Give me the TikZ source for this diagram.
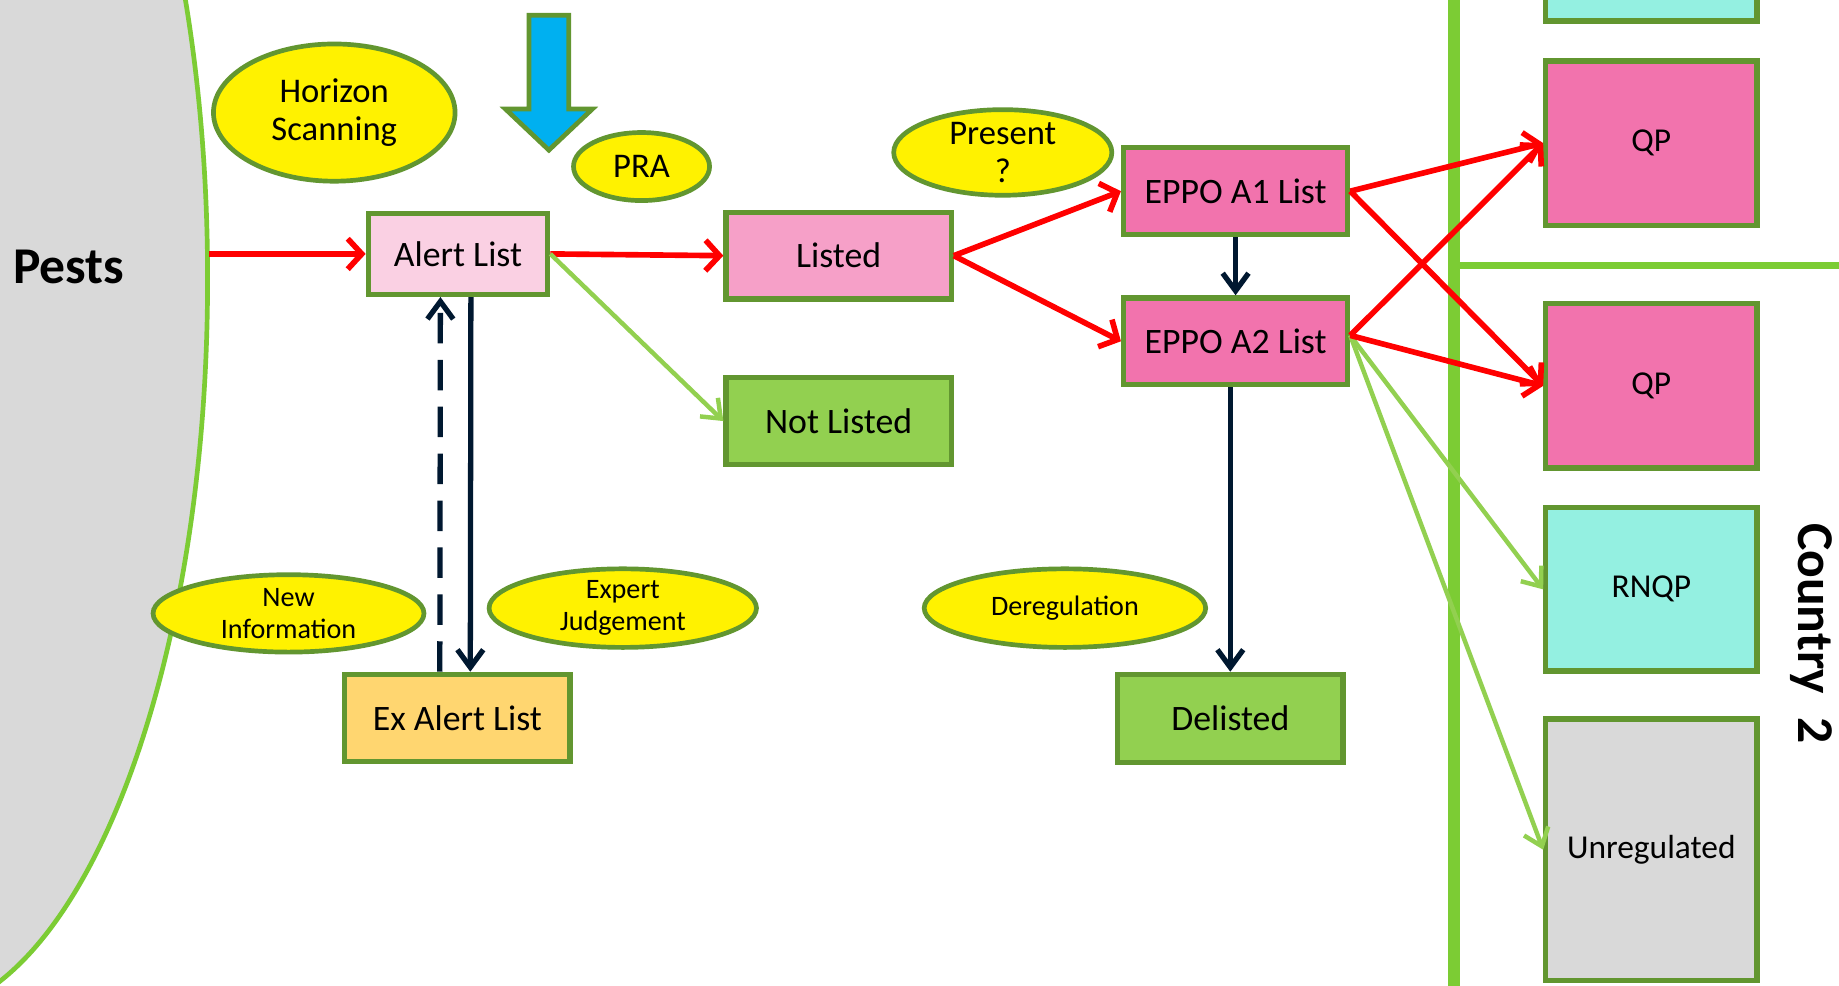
\documentclass[tikz,border=0pt]{standalone}
\usepackage{fontspec}
\setmainfont{Carlito}
\usetikzlibrary{arrows.meta,shapes.geometric}
\definecolor{bordergreen}{RGB}{98,150,48}
\definecolor{lightgreen}{RGB}{146,208,80}
\definecolor{brightgreen}{RGB}{124,204,52}
\definecolor{navyline}{RGB}{0,24,48}
\definecolor{alertpink}{RGB}{250,208,227}
\definecolor{listedpink}{RGB}{246,160,200}
\definecolor{eppopink}{RGB}{242,115,173}
\definecolor{exorange}{RGB}{255,214,112}
\definecolor{rnqpcyan}{RGB}{148,240,225}
\definecolor{greyfill}{RGB}{217,217,217}
\definecolor{bluearrow}{RGB}{0,176,240}
\newcommand\dgboxfont{\fontsize{30.5}{34}\selectfont}
\newcommand\dgsmallfont{\fontsize{24}{27}\selectfont}
\newcommand\dgovalfont{\fontsize{29.5}{32}\selectfont}
\newcommand\dgqpfont{\fontsize{28.5}{32}\selectfont}
\newcommand\dgbigfont{\fontsize{44}{50}\selectfont\bfseries}
\tikzset{
  listbox/.style={draw=bordergreen, line width=4.5pt, inner sep=0pt, font=\dgboxfont},
  oval/.style={ellipse, draw=bordergreen, fill=yellow, line width=4pt, inner sep=0pt, align=center},
  redarrow/.style={draw=red, line width=4.8pt, -{Straight Barb[length=12pt,width=26pt]}},
  greenarrow/.style={draw=lightgreen, line width=3.8pt, -{Straight Barb[length=14pt,width=22pt]}},
  navyarrow/.style={draw=navyline, line width=4.5pt, -{Straight Barb[length=15pt,width=22pt]}},
}
\begin{document}
\begin{tikzpicture}[x=1pt,y=-1pt]
\useasboundingbox (0,0) rectangle (1568,840);
\begin{scope}
\clip (0,0) rectangle (1568,840);
\fill[white] (0,0) rectangle (1568,840);
% pests region
\draw[fill=greyfill, draw=brightgreen, line width=4pt] (-77,238) ellipse [x radius=254, y radius=628];
\node[font=\dgbigfont, anchor=west, inner sep=0pt] (pests) at (11,228) {Pests};
\coordinate (pestedge) at (178,216.5);
% dividers
\draw[brightgreen, line width=10pt] (1240,-5) -- (1240,845);
\draw[brightgreen, line width=6pt] (1240,226) -- (1575,226);
% blue arrow
\draw[fill=bluearrow, draw=bordergreen, line width=4pt, line join=miter]
  (451,13) -- (485,13) -- (485,93) -- (505,93) -- (468,128) -- (431,93) -- (451,93) -- cycle;
% ovals
\node[oval, minimum width=206pt, minimum height=117pt, font=\dgovalfont] (horizon) at (285,96) {Horizon\\Scanning};
\node[oval, minimum width=116pt, minimum height=58pt, font=\dgovalfont] (pra) at (547,142) {PRA};
\node[oval, minimum width=186pt, minimum height=73pt, font=\dgovalfont] (present) at (855,130) {Present\\?};
\node[oval, minimum width=231pt, minimum height=66pt, font=\dgsmallfont] (newinfo) at (246,523) {New\\Information};
\node[oval, minimum width=228pt, minimum height=67pt, font=\dgsmallfont] (expert) at (531,518.5) {Expert\\Judgement};
\node[oval, minimum width=240pt, minimum height=67pt, font=\dgsmallfont] (dereg) at (908,518.5) {Deregulation};
% list boxes
\node[listbox, fill=alertpink, minimum width=153pt, minimum height=69pt] (alert) at (390.5,216.5) {Alert List};
\node[listbox, fill=listedpink, minimum width=192pt, minimum height=74pt] (listed) at (715,218) {Listed};
\node[listbox, fill=lightgreen, minimum width=192pt, minimum height=74pt] (notlisted) at (715,359) {Not Listed};
\node[listbox, fill=eppopink, minimum width=191pt, minimum height=74pt] (a1) at (1053.5,163) {EPPO A1 List};
\node[listbox, fill=eppopink, minimum width=191pt, minimum height=74pt] (a2) at (1053.5,291) {EPPO A2 List};
\node[listbox, fill=exorange, minimum width=192pt, minimum height=74pt] (exalert) at (390,612) {Ex Alert List};
\node[listbox, fill=lightgreen, minimum width=192pt, minimum height=75pt] (delisted) at (1049,612.5) {Delisted};
% country boxes
\node[listbox, fill=rnqpcyan, minimum width=180pt, minimum height=30pt] (topbox) at (1408,3) {};
\node[listbox, fill=eppopink, minimum width=180pt, minimum height=140pt, font=\dgqpfont] (qp1) at (1408,122) {QP};
\node[listbox, fill=eppopink, minimum width=180pt, minimum height=140pt, font=\dgqpfont] (qp2) at (1408,329) {QP};
\node[listbox, fill=rnqpcyan, minimum width=180pt, minimum height=139pt, font=\dgqpfont] (rnqp) at (1408,502.5) {RNQP};
\node[listbox, fill=greyfill, minimum width=180pt, minimum height=223pt, font=\dgqpfont] (unreg) at (1408,724.5) {Unregulated};
\node[font=\dgbigfont, rotate=-90, inner sep=0pt] (country) at (1544,540) {Country~~2};
% connectors
\draw[redarrow] (pestedge) -- (alert.west);
\draw[redarrow] (alert.east) -- (listed.west);
\draw[greenarrow] (alert.east) -- (notlisted.west);
\draw[redarrow] (listed.east) -- (a1.west);
\draw[redarrow] (listed.east) -- (a2.west);
\draw[navyarrow] (a1.south) -- (a2.north);
\draw[navyarrow] (a2.south -| delisted.north) -- (delisted.north);
\draw[navyarrow, dash pattern=on 26pt off 14pt] ([xshift=-15pt]exalert.north) -- ([xshift=-15pt]alert.south);
\draw[navyarrow] ([xshift=11pt]alert.south) -- ([xshift=11pt]exalert.north);
\draw[greenarrow] ([yshift=5pt]a2.east) -- (rnqp.west);
\draw[greenarrow] ([yshift=5pt]a2.east) -- (unreg.west);
\draw[redarrow] (a1.east) -- (qp1.west);
\draw[redarrow] (a1.east) -- (qp2.west);
\draw[redarrow] ([yshift=5pt]a2.east) -- (qp1.west);
\draw[redarrow] ([yshift=5pt]a2.east) -- (qp2.west);
\end{scope}
\end{tikzpicture}
\end{document}
